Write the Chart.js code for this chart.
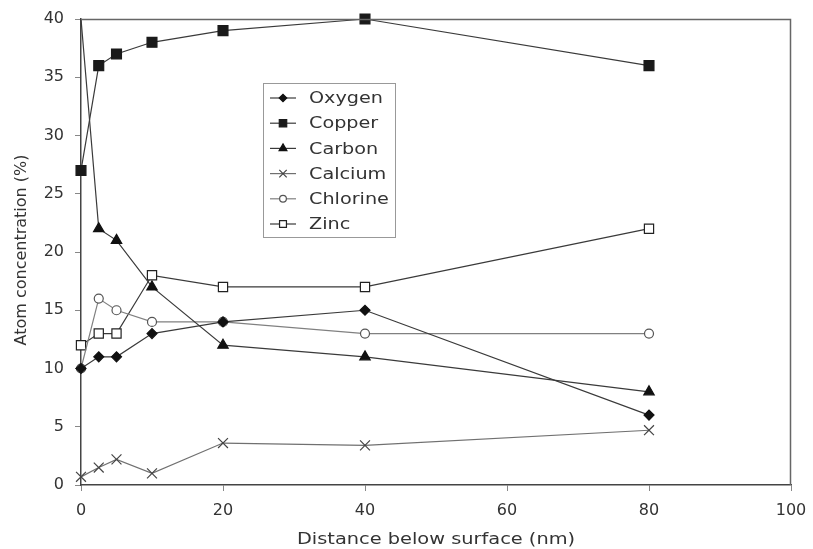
<!DOCTYPE html>
<html>
<head>
<meta charset="utf-8">
<script src="https://cdn.jsdelivr.net/npm/chart.js@4"></script>
<style>
html,body{margin:0;padding:0;background:#fff;}
#wrap{width:813px;height:549px;position:relative;}
</style>
</head>
<body>
<div id="wrap"><canvas id="c" width="813" height="549"></canvas></div>
<script>
const distances = [0, 2.5, 5, 10, 20, 40, 80];
const oxygen   = [10, 11, 11, 13, 14, 15, 6];
const copper   = [27, 36, 37, 38, 39, 40, 36];
const carbon   = [40, 22, 21, 17, 12, 11, 8];
const calcium  = [0.7, 1.5, 2.2, 1.0, 3.6, 3.4, 4.7];
const chlorine = [10, 16, 15, 14, 14, 13, 13];
const zinc     = [12, 13, 13, 18, 17, 17, 22];
const xTicks = [0, 20, 40, 60, 80, 100];
const yTicks = [0, 5, 10, 15, 20, 25, 30, 35, 40];
const xTitle = 'Distance below surface (nm)';
const yTitle = 'Atom concentration (%)';

const FONT = 'DejaVu Sans, Verdana, sans-serif';
const pts = arr => arr.map((v, i) => ({x: distances[i], y: v}));

const series = [
  {label:'Oxygen', data:oxygen, line:'#3a3a3a', ps:'rectRot', r:5, fill:'#111', stroke:'#111'},
  {label:'Copper', data:copper, line:'#3a3a3a', ps:'rect', r:7, fill:'#1a1a1a', stroke:'#1a1a1a'},
  {label:'Carbon', data:carbon, line:'#3a3a3a', ps:'triangle', r:6, fill:'#111', stroke:'#111', hideFirst:true},
  {label:'Calcium', data:calcium, line:'#707070', ps:'crossRot', r:7, fill:'#444', stroke:'#444'},
  {label:'Chlorine', data:chlorine, line:'#808080', ps:'circle', r:4.5, fill:'#fff', stroke:'#555'},
  {label:'Zinc', data:zinc, line:'#3a3a3a', ps:'rect', r:6.5, fill:'#fff', stroke:'#222'}
];

const datasets = series.map(s => ({
  label: s.label,
  data: pts(s.data),
  borderColor: s.line,
  borderWidth: 1.2,
  pointStyle: s.ps,
  pointRadius: s.hideFirst ? (ctx => ctx.dataIndex === 0 ? 0 : s.r) : s.r,
  pointBackgroundColor: s.fill,
  pointBorderColor: s.stroke,
  pointBorderWidth: 1.2,
  tension: 0,
  fill: false,
  clip: 8
}));

function stretchedText(ctx, text, x, y, size, sx, rot) {
  ctx.save();
  ctx.translate(x, y);
  if (rot) ctx.rotate(rot);
  ctx.scale(sx, 1);
  ctx.font = size + 'px ' + FONT;
  ctx.fillText(text, 0, 0);
  ctx.restore();
}

const frameLegend = {
  id: 'frameLegend',
  afterDatasetsDraw(chart) {
    const {ctx, chartArea: a} = chart;
    ctx.save();
    ctx.strokeStyle = '#666';
    ctx.lineWidth = 1.5;
    ctx.beginPath();
    ctx.moveTo(a.left, a.top + 0.5);
    ctx.lineTo(a.right - 0.5, a.top + 0.5);
    ctx.lineTo(a.right - 0.5, a.bottom);
    ctx.stroke();

    // axis titles
    ctx.fillStyle = '#333';
    ctx.textAlign = 'center';
    ctx.textBaseline = 'middle';
    stretchedText(ctx, xTitle, 436, 540, 16, 1.21, 0);
    stretchedText(ctx, yTitle, 22, 250, 16, 1.0, -Math.PI / 2);

    // legend box
    const bx = 263, by = 83, bw = 132, bh = 154;
    ctx.fillStyle = '#fff';
    ctx.fillRect(bx, by, bw, bh);
    ctx.strokeStyle = '#999';
    ctx.lineWidth = 1;
    ctx.strokeRect(bx + 0.5, by + 0.5, bw, bh);
    ctx.textAlign = 'left';
    series.forEach((s, i) => {
      const y = by + 15 + i * 25.2;
      const x0 = 270, x1 = 296, xm = 283;
      ctx.strokeStyle = s.line;
      ctx.lineWidth = 1.2;
      ctx.beginPath();
      ctx.moveTo(x0, y);
      ctx.lineTo(x1, y);
      ctx.stroke();
      ctx.fillStyle = s.fill;
      ctx.strokeStyle = s.stroke;
      Chart.helpers.drawPoint(ctx, {pointStyle: s.ps, radius: s.r * 0.75, borderWidth: 1.2}, xm, y);
      ctx.fillStyle = '#333';
      stretchedText(ctx, s.label, 309, y + 1, 16, 1.2, 0);
    });
    ctx.restore();
  }
};

new Chart(document.getElementById('c'), {
  type: 'line',
  data: { datasets },
  options: {
    responsive: false,
    animation: false,
    layout: { padding: { top: 19, right: 22, left: 0, bottom: 0 } },
    plugins: { legend: { display: false }, tooltip: { enabled: false } },
    scales: {
      x: {
        type: 'linear',
        min: 0, max: 100,
        afterBuildTicks: ax => { ax.ticks = xTicks.map(v => ({value: v})); },
        afterFit: ax => { ax.height = 64; ax.paddingRight = 0; ax.paddingLeft = 0; },
        grid: { drawOnChartArea: false, drawTicks: true, tickLength: 6, color: '#888' },
        border: { display: true, color: '#444', width: 1.5 },
        ticks: { color: '#333', font: { family: FONT, size: 16 }, padding: 10, maxRotation: 0 },
        title: { display: false, text: xTitle }
      },
      y: {
        type: 'linear',
        min: 0, max: 40,
        afterBuildTicks: ax => { ax.ticks = yTicks.map(v => ({value: v})); },
        afterFit: ax => { ax.width = 81; ax.paddingTop = 0; ax.paddingBottom = 0; },
        grid: { drawOnChartArea: false, drawTicks: true, tickLength: 6, color: '#888' },
        border: { display: true, color: '#444', width: 1.5 },
        ticks: { color: '#333', font: { family: FONT, size: 16 }, padding: 11 },
        title: { display: false, text: yTitle }
      }
    }
  },
  plugins: [frameLegend]
});
</script>
</body>
</html>
